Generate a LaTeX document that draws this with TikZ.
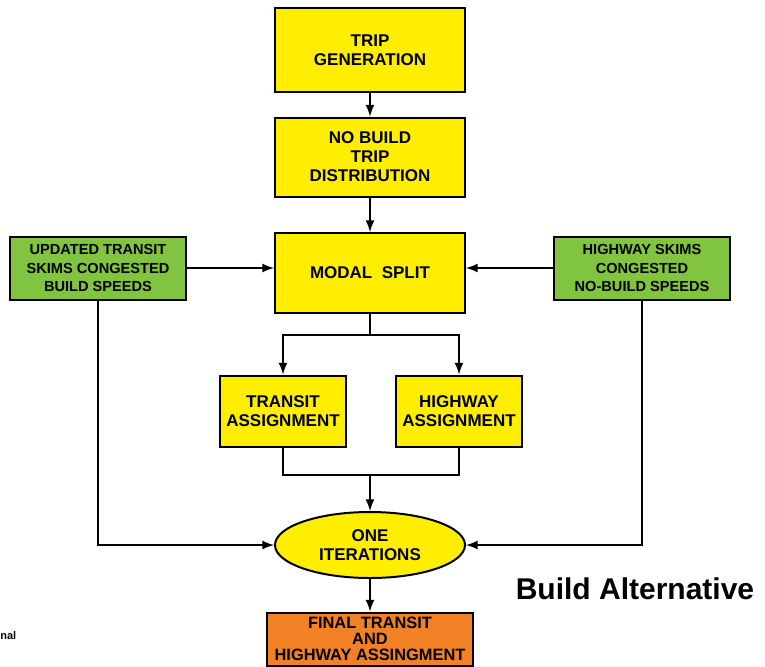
\documentclass[tikz,border=0pt]{standalone}
\usepackage{fontspec}
\setmainfont{Liberation Sans}
\usetikzlibrary{shapes.geometric}

\definecolor{boxyellow}{RGB}{255,238,0}
\definecolor{skimgreen}{RGB}{128,196,64}
\definecolor{finalorange}{RGB}{242,128,36}

\tikzset{
  stepbox/.style={draw, line width=1pt, fill=boxyellow, align=center, inner sep=0pt,
    font=\fontsize{8.5}{9.5}\selectfont\bfseries},
  skimbox/.style={draw, line width=1pt, fill=skimgreen, align=center, inner sep=0pt,
    minimum width=88pt, minimum height=31.5pt, font=\fontsize{7.3}{9.2}\selectfont\bfseries},
  link/.style={line width=1pt}
}

\begin{document}
\begin{tikzpicture}[x=0.5pt, y=-0.5pt, >=latex]
            \useasboundingbox (0, 0) rectangle (765, 666);
            % main chain
            \node[stepbox, minimum width=95pt, minimum height=42pt] (tripgen) at (370, 50) {TRIP\\GENERATION};
            \node[stepbox, minimum width=95pt, minimum height=39.5pt] (tripdist) at (370, 157) {NO BUILD\\TRIP\\DISTRIBUTION};
            \node[stepbox, minimum width=95pt, minimum height=40pt] (split) at (370, 273) {MODAL\ \ SPLIT};
            \node[skimbox] (lskim) at (98, 268) {UPDATED TRANSIT\\SKIMS CONGESTED\\BUILD SPEEDS};
            \node[skimbox] (rskim) at (642, 268) {HIGHWAY SKIMS\\CONGESTED\\NO-BUILD SPEEDS};
            \node[stepbox, minimum width=63pt, minimum height=35.5pt] (tassign) at (283, 411) {TRANSIT\\ASSIGNMENT};
            \node[stepbox, minimum width=63pt, minimum height=35.5pt] (hassign) at (459, 411) {HIGHWAY\\ASSIGNMENT};
            \node[stepbox, ellipse, minimum width=95pt, minimum height=33pt] (iter) at (370, 545) {ONE\\ITERATIONS};
            \node[stepbox, fill=finalorange, minimum width=103pt, minimum height=26.5pt,
              font=\fontsize{8.2}{7.9}\selectfont\bfseries] (final) at (370, 639) {FINAL TRANSIT\\AND\\HIGHWAY ASSINGMENT};
            \coordinate (fork) at (370, 335);
            \coordinate (join) at (370, 475);
            % connectors
            \draw[link, ->] (tripgen) -- (tripdist);
            \draw[link, ->] (tripdist) -- (split);
            \draw[link, ->] (lskim) -- (lskim -| split.west);
            \draw[link, ->] (rskim) -- (rskim -| split.east);
            \draw[link] (split) -- (fork);
            \draw[link, ->] (fork) -| (tassign);
            \draw[link, ->] (fork) -| (hassign);
            \draw[link] (tassign) |- (join) -| (hassign);
            \draw[link, ->] (join) -- (iter);
            \draw[link, ->] (lskim.south) |- (iter.west);
            \draw[link, ->] (rskim.south) |- (iter.east);
            \draw[link, ->] (iter) -- (final);
            % captions
            \node[font=\fontsize{15}{17}\selectfont\bfseries] (title) at (635, 589) {Build Alternative};
            \node[anchor=west, inner sep=0pt, font=\fontsize{5.5}{6}\selectfont\bfseries] (cut) at (0, 636) {nal};
        \end{tikzpicture}
\end{document}
